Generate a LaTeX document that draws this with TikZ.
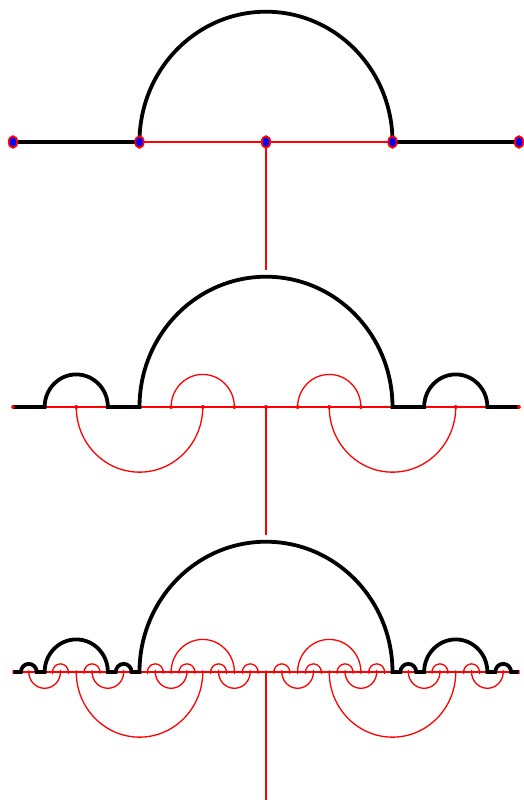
\documentclass[tikz,border=0pt]{standalone}
\usepackage{tikz}
\usepackage{xcolor}

\begin{document}
\begin{tikzpicture}[x=1pt,y=1pt,
    blk/.style={line width=3.8pt},
    rd/.style={red,line width=1.3pt},
    bigdot/.style={fill=blue,draw=red,line width=1.8pt},
    smalldot/.style={fill=red}]
    \useasboundingbox (0,0) rectangle (524,-800);
    \pgfmathsetmacro{\xo}{13}	%left end
    \pgfmathsetmacro{\du}{506/64}	%unit
    \pgfmathsetmacro{\hr}{1.03}	%height of an arc / half width

    % first row
    \def\y{-142}
    \draw[rd] ({\xo},\y) -- ({\xo+64*\du},\y);
    \draw[rd] ({\xo+32*\du},\y) -- ({\xo+32*\du},{\y-128});
    \draw[blk] ({\xo},\y) -- ({\xo+16*\du},\y)
        arc[start angle=180,end angle=0,x radius={16*\du},y radius={\hr*16*\du}]
        -- ({\xo+64*\du},\y);
    \foreach \k in {0,16,32,48,64}
        \filldraw[bigdot] ({\xo+\k*\du},\y) ellipse [x radius=4.2,y radius=5.8];

    % second row
    \def\y{-407}
    \draw[rd] ({\xo},\y) -- ({\xo+64*\du},\y);
    \draw[rd] ({\xo+32*\du},\y) -- ({\xo+32*\du},{\y-128});
    \foreach \a/\b in {20/28,36/44}
        \draw[rd] ({\xo+\a*\du},\y) arc[start angle=180,end angle=0,x radius={(\b-\a)*\du/2},y radius={\hr*(\b-\a)*\du/2}];
    \foreach \a/\b in {8/24,40/56}
        \draw[rd] ({\xo+\a*\du},\y) arc[start angle=180,end angle=360,x radius={(\b-\a)*\du/2},y radius={\hr*(\b-\a)*\du/2}];
    \draw[blk] ({\xo},\y) -- ({\xo+4*\du},\y)
        arc[start angle=180,end angle=0,x radius={4*\du},y radius={\hr*4*\du}]
        -- ({\xo+16*\du},\y)
        arc[start angle=180,end angle=0,x radius={16*\du},y radius={\hr*16*\du}]
        -- ({\xo+52*\du},\y)
        arc[start angle=180,end angle=0,x radius={4*\du},y radius={\hr*4*\du}]
        -- ({\xo+64*\du},\y);
    \foreach \k in {0,8,20,24,28,32,36,40,44,56,64}
        \fill[smalldot] ({\xo+\k*\du},\y) ellipse [x radius=1.8,y radius=2];

    % third row
    \def\y{-672}
    \draw[rd] ({\xo},\y) -- ({\xo+64*\du},\y);
    \draw[rd] ({\xo+32*\du},\y) -- ({\xo+32*\du},{\y-128});
    \foreach \a/\b in {20/28,36/44,5/7,9/11,17/19,21/23,25/27,29/31,33/35,37/39,41/43,45/47,53/55,57/59}
        \draw[rd] ({\xo+\a*\du},\y) arc[start angle=180,end angle=0,x radius={(\b-\a)*\du/2},y radius={\hr*(\b-\a)*\du/2}];
    \foreach \a/\b in {8/24,40/56,2/6,10/14,18/22,26/30,34/38,42/46,50/54,58/62}
        \draw[rd] ({\xo+\a*\du},\y) arc[start angle=180,end angle=360,x radius={(\b-\a)*\du/2},y radius={\hr*(\b-\a)*\du/2}];
    \draw[blk] ({\xo},\y) -- ({\xo+\du},\y)
        arc[start angle=180,end angle=0,x radius={\du},y radius={\hr*\du}]
        -- ({\xo+4*\du},\y)
        arc[start angle=180,end angle=0,x radius={4*\du},y radius={\hr*4*\du}]
        -- ({\xo+13*\du},\y)
        arc[start angle=180,end angle=0,x radius={\du},y radius={\hr*\du}]
        -- ({\xo+16*\du},\y)
        arc[start angle=180,end angle=0,x radius={16*\du},y radius={\hr*16*\du}]
        -- ({\xo+49*\du},\y)
        arc[start angle=180,end angle=0,x radius={\du},y radius={\hr*\du}]
        -- ({\xo+52*\du},\y)
        arc[start angle=180,end angle=0,x radius={4*\du},y radius={\hr*4*\du}]
        -- ({\xo+61*\du},\y)
        arc[start angle=180,end angle=0,x radius={\du},y radius={\hr*\du}]
        -- ({\xo+64*\du},\y);
    \foreach \k in {0,2,5,6,7,8,9,10,11,14,17,18,...,47,50,53,54,55,56,57,58,59,62,64}
        \fill[smalldot] ({\xo+\k*\du},\y) ellipse [x radius=0.6,y radius=2.4];
\end{tikzpicture}
\end{document}
